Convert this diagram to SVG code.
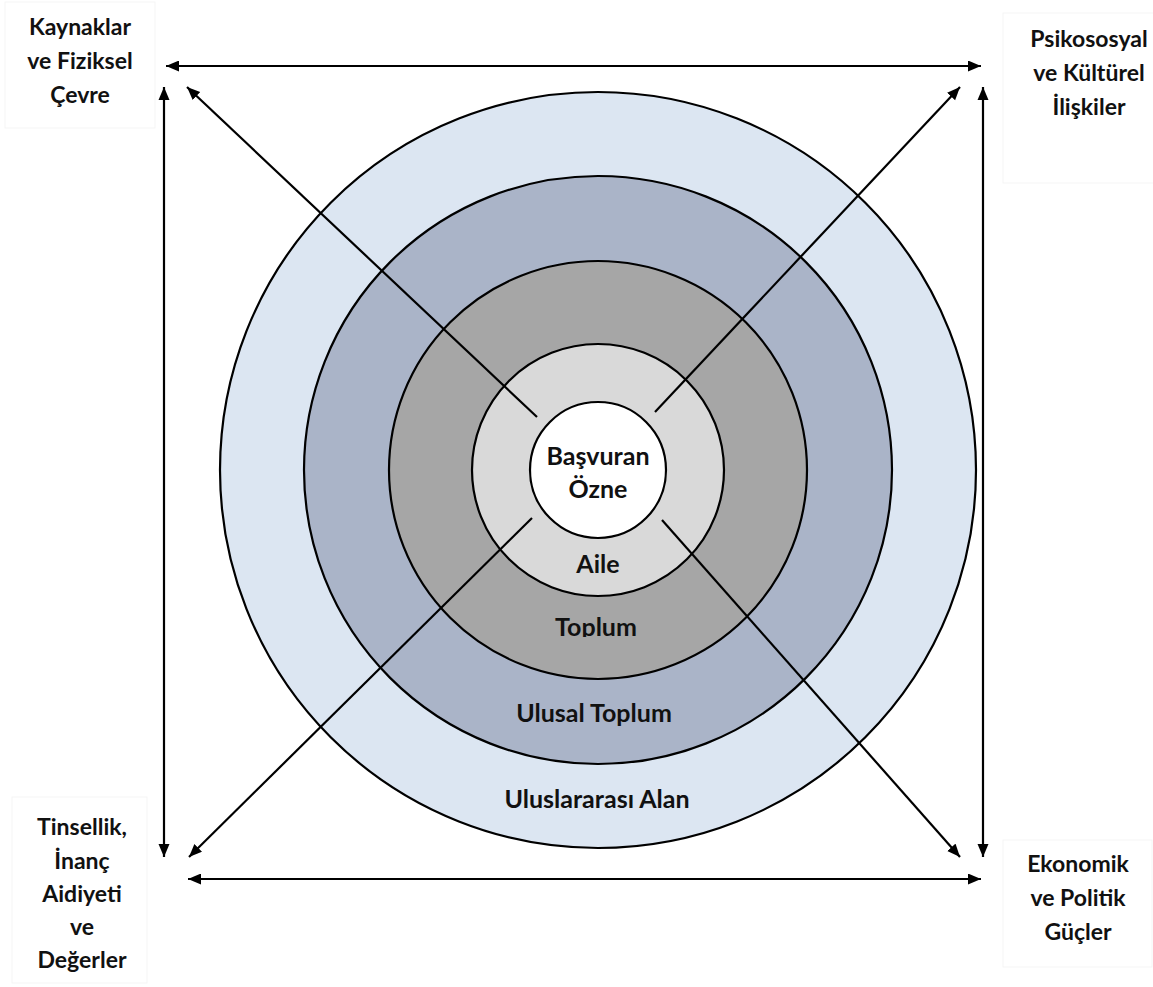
<svg xmlns="http://www.w3.org/2000/svg" width="1153" height="987" viewBox="0 0 1153 987">
<style>
.ring{stroke:#000;stroke-width:2.2}
.lbl{font-family:Lato,"Liberation Sans",sans-serif;font-weight:bold;font-size:23px;fill:#111;text-anchor:middle}
.rl{font-size:25px}
.box{fill:#fff;stroke:#f5f5f5;stroke-width:1}
.con{stroke:#000;stroke-width:2.2;fill:none}
</style>
<defs>
<marker id="ah" markerUnits="userSpaceOnUse" markerWidth="14" markerHeight="12" refX="13" refY="5.5" orient="auto">
<path d="M0,0 L13,5.5 L0,11 z" fill="#000"/>
</marker>
<marker id="ahs" markerUnits="userSpaceOnUse" markerWidth="14" markerHeight="12" refX="0" refY="5.5" orient="auto">
<path d="M13,0 L0,5.5 L13,11 z" fill="#000"/>
</marker>
<clipPath id="clipToplum"><rect x="500" y="600" width="200" height="37"/></clipPath>
</defs>
<rect width="1153" height="987" fill="#fff"/>

<g id="rings">
<g id="node-uluslararasi">
<circle class="ring" cx="598" cy="470" r="378" fill="#dce6f2"/>
</g>
<g id="node-ulusal">
<circle class="ring" cx="598" cy="470" r="294" fill="#aab4c8"/>
</g>
<g id="node-toplum">
<circle class="ring" cx="598" cy="470" r="209" fill="#a6a6a6"/>
</g>
<g id="node-aile">
<circle class="ring" cx="598" cy="470" r="126" fill="#d9d9d9"/>
</g>
<g id="node-ozne">
<circle class="ring" cx="598" cy="470" r="68" fill="#fff"/>
</g>
</g>

<g id="connectors">
<line class="con" x1="537" y1="417" x2="187" y2="87" marker-end="url(#ah)"/>
<line class="con" x1="655" y1="412" x2="960" y2="87" marker-end="url(#ah)"/>
<line class="con" x1="532" y1="518" x2="189" y2="857" marker-end="url(#ah)"/>
<line class="con" x1="662" y1="520" x2="960" y2="857" marker-end="url(#ah)"/>
<line class="con" x1="166" y1="66" x2="981" y2="66" marker-start="url(#ahs)" marker-end="url(#ah)"/>
<line class="con" x1="188" y1="879" x2="981" y2="879" marker-start="url(#ahs)" marker-end="url(#ah)"/>
<line class="con" x1="164" y1="87" x2="164" y2="857" marker-start="url(#ahs)" marker-end="url(#ah)"/>
<line class="con" x1="983" y1="87" x2="983" y2="857" marker-start="url(#ahs)" marker-end="url(#ah)"/>
</g>

<g id="ring-labels">
<text class="lbl rl" x="598" y="465">Başvuran</text>
<text class="lbl rl" x="598" y="498">Özne</text>
<text class="lbl rl" x="598" y="573">Aile</text>
<text class="lbl rl" x="596" y="636" clip-path="url(#clipToplum)">Toplum</text>
<text class="lbl rl" x="594" y="722">Ulusal Toplum</text>
<text class="lbl rl" x="597" y="808">Uluslararası Alan</text>
</g>

<g id="node-kaynaklar">
<rect class="box" x="5" y="2" width="150" height="126"/>
<text class="lbl" x="80" y="35">Kaynaklar</text>
<text class="lbl" x="80" y="69">ve Fiziksel</text>
<text class="lbl" x="80" y="103">Çevre</text>
</g>
<g id="node-psikososyal">
<rect class="box" x="1003" y="13" width="152" height="170"/>
<text class="lbl" x="1089" y="47">Psikososyal</text>
<text class="lbl" x="1089" y="81">ve Kültürel</text>
<text class="lbl" x="1089" y="115">İlişkiler</text>
</g>
<g id="node-tinsellik">
<rect class="box" x="12" y="797" width="135" height="186"/>
<text class="lbl" x="82" y="835">Tinsellik,</text>
<text class="lbl" x="82" y="869">İnanç</text>
<text class="lbl" x="82" y="902">Aidiyeti</text>
<text class="lbl" x="82" y="935">ve</text>
<text class="lbl" x="82" y="968">Değerler</text>
</g>
<g id="node-ekonomik">
<rect class="box" x="1003" y="840" width="149" height="127"/>
<text class="lbl" x="1078" y="872">Ekonomik</text>
<text class="lbl" x="1078" y="906">ve Politik</text>
<text class="lbl" x="1078" y="940">Güçler</text>
</g>
</svg>
